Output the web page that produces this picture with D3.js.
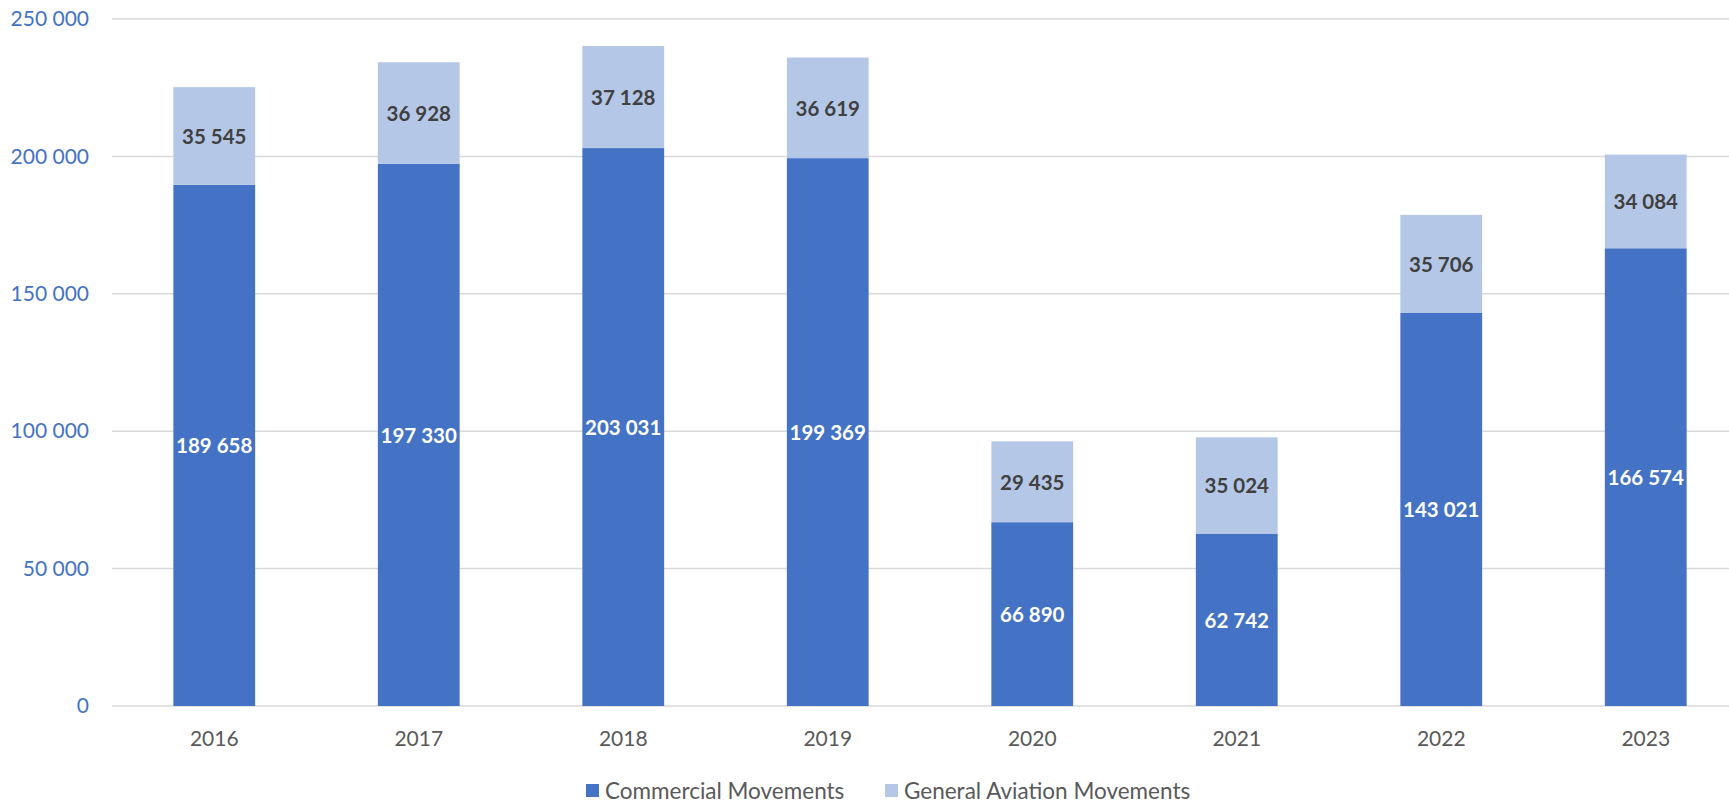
<!DOCTYPE html>
<html>
<head>
<meta charset="utf-8">
<script src="https://cdn.jsdelivr.net/npm/d3@7"></script>
<style>
  html, body { margin: 0; padding: 0; background: #ffffff; }
  svg { display: block; font-family: Lato, "Open Sans", sans-serif; }
</style>
</head>
<body>
<svg id="chart" width="1729" height="805"></svg>
<script>
const years = ["2016", "2017", "2018", "2019", "2020", "2021", "2022", "2023"];
const commercial = [189658, 197330, 203031, 199369, 66890, 62742, 143021, 166574];
const generalAviation = [35545, 36928, 37128, 36619, 29435, 35024, 35706, 34084];
const yTicks = [0, 50000, 100000, 150000, 200000, 250000];
const seriesNames = ["Commercial Movements", "General Aviation Movements"];
const seriesColors = ["#4472C4", "#B4C7E7"];
const labelColors = ["#FFFFFF", "#404040"];

const W = 1729, H = 805;
const svg = d3.select("#chart");

const plotLeft = 112, plotTop = 19, plotBottom = 706;
const step = 204.5;

const x = d3.scaleBand().domain(years).range([plotLeft, plotLeft + step * years.length]).paddingInner(0.6).paddingOuter(0.3);
const y = d3.scaleLinear().domain([0, 250000]).range([plotBottom, plotTop]);

const fmt = v => d3.format(",")(v).replace(/,/g, " ");

// gridlines
svg.append("g").selectAll("line").data(yTicks).join("line")
  .attr("x1", plotLeft).attr("x2", W)
  .attr("y1", d => y(d)).attr("y2", d => y(d))
  .attr("stroke", "#D9D9D9").attr("stroke-width", 1.5);

// y axis labels
const yAxis = d3.axisLeft(y).tickValues(yTicks).tickFormat(fmt).tickSize(0).tickPadding(0);
const yg = svg.append("g").attr("transform", `translate(${89},0)`).call(yAxis);
yg.select(".domain").remove();
yg.selectAll("text").attr("fill", "#4472C4").attr("font-size", 21).attr("font-family", "Lato, sans-serif");

// x axis labels
const xAxis = d3.axisBottom(x).tickSize(0).tickPadding(0);
const xg = svg.append("g").attr("transform", `translate(0,${plotBottom})`).call(xAxis);
xg.select(".domain").remove();
xg.selectAll("text").attr("fill", "#595959").attr("font-size", 21).attr("font-family", "Lato, sans-serif")
  .attr("dy", null).attr("y", 31).attr("dominant-baseline", "central");

// stacked data
const rows = years.map((yr, i) => ({ year: yr, c: commercial[i], g: generalAviation[i] }));
const stack = d3.stack().keys(["c", "g"])(rows);

const layers = svg.append("g").selectAll("g").data(stack).join("g")
  .attr("fill", (d, i) => seriesColors[i]);
layers.selectAll("rect").data(d => d).join("rect")
  .attr("x", d => x(d.data.year))
  .attr("width", x.bandwidth())
  .attr("y", d => y(d[1]))
  .attr("height", d => y(d[0]) - y(d[1]));

// labels
const labelG = svg.append("g");
stack.forEach((layer, li) => {
  labelG.selectAll(null).data(layer).join("text")
    .attr("x", d => x(d.data.year) + x.bandwidth() / 2)
    .attr("y", d => (y(d[0]) + y(d[1])) / 2)
    .attr("text-anchor", "middle")
    .attr("dominant-baseline", "central")
    .attr("font-weight", "bold")
    .attr("font-size", 20.5)
    .attr("fill", labelColors[li])
    .text(d => fmt(d[1] - d[0]));
});

// legend
const legendItems = [{ name: seriesNames[0], color: seriesColors[0], x: 586 }, { name: seriesNames[1], color: seriesColors[1], x: 885 }];
const lg = svg.append("g");
legendItems.forEach(it => {
  lg.append("rect").attr("x", it.x).attr("y", 784).attr("width", 13).attr("height", 13).attr("fill", it.color);
  lg.append("text").attr("x", it.x + 19).attr("y", 790.5).attr("dominant-baseline", "central")
    .attr("font-size", 22.5).attr("fill", "#595959").text(it.name);
});
</script>
</body>
</html>
